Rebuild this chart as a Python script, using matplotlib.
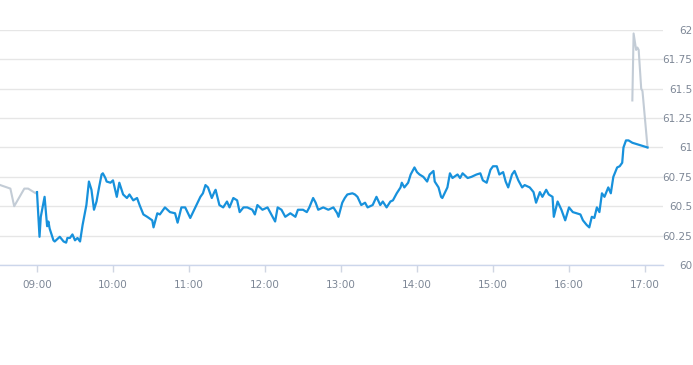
import matplotlib
matplotlib.use("Agg")
import matplotlib.pyplot as plt
import matplotlib.dates as mdates
import pandas as pd

DAY = "2024-01-02 "

pre_times = ["08:31", "08:39", "08:42", "08:50", "08:53", "08:59", "09:00"]
pre_prices = [60.68, 60.65, 60.50, 60.65, 60.65, 60.61, 60.62]

main_times = [
    "09:00", "09:02", "09:03", "09:06", "09:08", "09:09", "09:10", "09:13", "09:14", "09:17",
    "09:18", "09:21", "09:23", "09:24", "09:26", "09:28", "09:30", "09:32", "09:34", "09:36",
    "09:39", "09:41", "09:43", "09:45", "09:47", "09:49", "09:51", "09:52", "09:54", "09:55",
    "09:58", "10:00", "10:03", "10:05", "10:08", "10:11", "10:13", "10:16", "10:19", "10:21",
    "10:24", "10:27", "10:31", "10:32", "10:35", "10:37", "10:41", "10:45", "10:49", "10:51",
    "10:54", "10:57", "11:01", "11:05", "11:09", "11:11", "11:13", "11:15", "11:18", "11:20",
    "11:21", "11:24", "11:27", "11:30", "11:32", "11:35", "11:38", "11:40", "11:43", "11:46",
    "11:50", "11:52", "11:54", "11:58", "12:02", "12:05", "12:08", "12:10", "12:13", "12:16",
    "12:20", "12:24", "12:26", "12:30", "12:33", "12:35", "12:38", "12:40", "12:42", "12:46",
    "12:50", "12:54", "12:57", "12:58", "13:01", "13:03", "13:05", "13:09", "13:11", "13:13",
    "13:16", "13:19", "13:21", "13:25", "13:28", "13:31", "13:33", "13:36", "13:39", "13:41",
    "13:44", "13:47", "13:48", "13:50", "13:53", "13:55", "13:58", "14:00", "14:02", "14:05",
    "14:08", "14:10", "14:13", "14:14", "14:17", "14:19", "14:20", "14:24", "14:26", "14:28",
    "14:32", "14:34", "14:36", "14:40", "14:43", "14:47", "14:50", "14:52", "14:55", "14:58",
    "15:00", "15:03", "15:05", "15:08", "15:10", "15:12", "15:15", "15:17", "15:20", "15:23",
    "15:25", "15:29", "15:32", "15:34", "15:37", "15:39", "15:42", "15:44", "15:47", "15:48",
    "15:51", "15:54", "15:57", "16:00", "16:03", "16:06", "16:09", "16:11", "16:14", "16:16",
    "16:18", "16:20", "16:22", "16:24", "16:26", "16:28", "16:31", "16:33", "16:35", "16:38",
    "16:40", "16:42", "16:43", "16:45", "16:47", "16:50", "17:02",
]
main_prices = [
    60.62, 60.24, 60.41, 60.58, 60.33, 60.37, 60.31, 60.21, 60.20, 60.23,
    60.24, 60.20, 60.19, 60.23, 60.23, 60.26, 60.21, 60.23, 60.20, 60.34,
    60.51, 60.71, 60.64, 60.47, 60.54, 60.66, 60.77, 60.78, 60.74, 60.71,
    60.70, 60.72, 60.58, 60.70, 60.60, 60.57, 60.60, 60.55, 60.57, 60.51,
    60.43, 60.41, 60.38, 60.32, 60.44, 60.43, 60.49, 60.45, 60.44, 60.36,
    60.49, 60.49, 60.40, 60.49, 60.58, 60.61, 60.68, 60.66, 60.57, 60.62,
    60.64, 60.51, 60.49, 60.54, 60.49, 60.57, 60.55, 60.45, 60.49, 60.49,
    60.47, 60.43, 60.51, 60.47, 60.49, 60.43, 60.37, 60.49, 60.47, 60.41,
    60.44, 60.41, 60.47, 60.47, 60.45, 60.49, 60.57, 60.53, 60.47, 60.49,
    60.47, 60.49, 60.44, 60.41, 60.53, 60.57, 60.60, 60.61, 60.60, 60.58,
    60.51, 60.53, 60.49, 60.51, 60.58, 60.51, 60.54, 60.49, 60.54, 60.55,
    60.61, 60.66, 60.70, 60.66, 60.70, 60.77, 60.83, 60.79, 60.77, 60.75,
    60.71, 60.77, 60.80, 60.71, 60.66, 60.58, 60.57, 60.66, 60.78, 60.74,
    60.77, 60.74, 60.78, 60.74, 60.75, 60.77, 60.78, 60.72, 60.70, 60.81,
    60.84, 60.84, 60.77, 60.79, 60.71, 60.66, 60.77, 60.80, 60.72, 60.66,
    60.68, 60.66, 60.62, 60.53, 60.62, 60.58, 60.64, 60.60, 60.58, 60.41,
    60.54, 60.47, 60.38, 60.49, 60.45, 60.44, 60.43, 60.38, 60.34, 60.32,
    60.41, 60.40, 60.49, 60.45, 60.61, 60.58, 60.66, 60.61, 60.75, 60.83,
    60.84, 60.87, 61.00, 61.06, 61.06, 61.04, 61.00,
]

post_times = ["16:50", "16:51", "16:53", "16:54", "16:55", "16:57", "16:58", "17:02"]
post_prices = [61.40, 61.97, 61.83, 61.85, 61.83, 61.50, 61.48, 61.00]

y_ticks = [60, 60.25, 60.5, 60.75, 61, 61.25, 61.5, 61.75, 62]
y_labels = ["60", "60.25", "60.5", "60.75", "61", "61.25", "61.5", "61.75", "62"]
x_ticks = ["09:00", "10:00", "11:00", "12:00", "13:00", "14:00", "15:00", "16:00", "17:00"]
x_range = ["08:30:48", "17:14:12"]


def to_dt(lst):
    return pd.to_datetime([DAY + t for t in lst])


fig = plt.figure(figsize=(6.93, 3.65), dpi=100)
ax = fig.add_axes([0.0, 0.274, 0.9567, 0.644])

ax.plot(to_dt(pre_times), pre_prices, color="#c3ccd6", lw=1.5, solid_joinstyle="round")
ax.plot(to_dt(post_times), post_prices, color="#c3ccd6", lw=1.5, solid_joinstyle="round")
ax.plot(to_dt(main_times), main_prices, color="#1791dc", lw=1.6, solid_joinstyle="round")

ax.set_xlim(to_dt(x_range))
ax.set_ylim(60, 62)

ax.set_yticks(y_ticks)
ax.set_yticklabels(y_labels)
ax.yaxis.tick_right()
ax.tick_params(axis="y", length=0, pad=21, labelsize=7.5, labelcolor="#7d8796")
for lab in ax.get_yticklabels():
    lab.set_horizontalalignment("right")

ax.set_xticks(to_dt(x_ticks))
ax.xaxis.set_major_formatter(mdates.DateFormatter("%H:%M"))
ax.tick_params(axis="x", length=5, width=1, color="#d0d6e2", pad=6, labelsize=7.5, labelcolor="#7d8796")

ax.grid(axis="y", color="#e6e6e6", lw=1)
ax.set_axisbelow(True)
for s in ["top", "left", "right"]:
    ax.spines[s].set_visible(False)
ax.spines["bottom"].set_color("#ccd6eb")
ax.spines["bottom"].set_linewidth(1)

fig.savefig("out.png", dpi=100)
